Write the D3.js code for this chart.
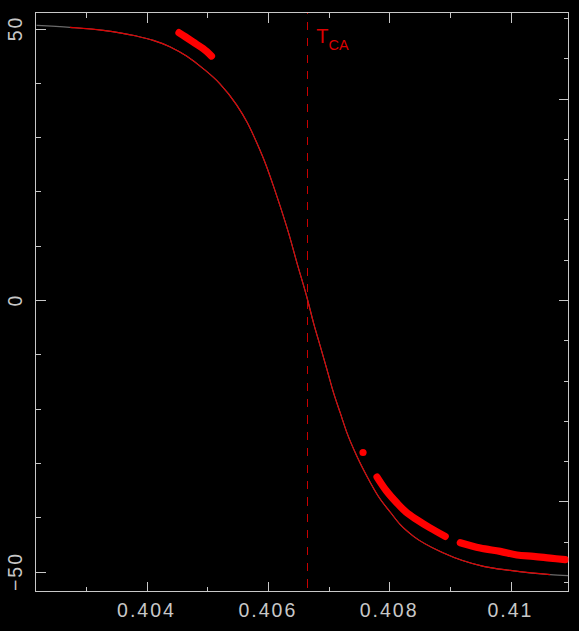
<!DOCTYPE html>
<html><head><meta charset="utf-8">
<script src="https://cdn.jsdelivr.net/npm/d3@7"></script>
<style>
html,body{margin:0;padding:0;background:#000;}
svg{display:block;}
text{font-family:"Liberation Sans",Arial,sans-serif;}
</style></head>
<body>
<script>
// ---- data ----
const xDomain = [0.40217, 0.410956];
const yDomain = [-53.68, 52.95];
const xMajorTicks = [0.404, 0.406, 0.408, 0.41];
const xTickLabels = ["0.404", "0.406", "0.408", "0.41"];
const xMinorTicks = [0.403, 0.405, 0.407, 0.409];
const yMajorTicks = [-50, 0, 50];
const yTickLabels = ["\u221250", "0", "50"];
const yMinorTicks = [-40, -30, -20, -10, 10, 20, 30, 40];
const rightScaleFactor = 0.7416;
const rightMajorTicks = [-50, 0, 50];
const rightMinorTicks = [-70, -60, -40, -30, -20, -10, 10, 20, 30, 40, 60, 70];
const tca = 0.406651;
const tcaLabel = "T", tcaSub = "CA";

// model curve
const curveX = [0.402188,0.402737,0.403287,0.403835,0.40411,0.404384,0.404659,0.404934,0.405207,0.405482,0.405658,0.405823,0.40596,0.406097,0.406207,0.406344,0.406482,0.406647,0.406755,0.406866,0.406976,0.407085,0.407195,0.407306,0.40747,0.407635,0.407826,0.408019,0.408183,0.408402,0.408896,0.409555,0.409995,0.410654,0.41095];
const curveY = [50.58,50.21,49.66,48.61,47.82,46.66,44.93,42.62,39.86,35.99,32.74,28.82,25.14,20.84,17.16,12.27,6.75,0.37,-4.29,-8.59,-12.87,-17.16,-20.84,-24.52,-28.82,-32.5,-36.23,-39.08,-41.38,-43.53,-46.59,-49.05,-49.79,-50.58,-50.76];
const curveRedRange = [0.4026, 0.41074];

// measured points (three dense runs + one isolated point)
const run1X = [0.404535,0.404642,0.404769,0.404934,0.405071];
const run1Y = [49.24,48.46,47.51,46.29,44.93];
const run2X = [0.4078,0.407953,0.408129,0.408282,0.408458,0.408677,0.408924];
const run2Y = [-32.61,-35.13,-37.39,-39.08,-40.46,-41.99,-43.53];
const run3X = [0.409172,0.409501,0.40983,0.410105,0.410379,0.410654,0.410901];
const run3Y = [-44.69,-45.67,-46.29,-46.96,-47.21,-47.54,-47.82];
const singleX = [0.407569];
const singleY = [-28.08];

// ---- chart ----
const W = 579, H = 631;
const L = 35.5, R = 568.5, T = 12.5, B = 591.5;
const svg = d3.select("body").append("svg").attr("width", W).attr("height", H)
  .style("background", "#000");
svg.append("rect").attr("width", W).attr("height", H).attr("fill", "#000");

const x = d3.scaleLinear().domain(xDomain).range([L, R]);
const y = d3.scaleLinear().domain(yDomain).range([B, T]);
const yR = d3.scaleLinear().domain([yDomain[0] / rightScaleFactor, yDomain[1] / rightScaleFactor]).range([B, T]);

const frameColor = "#c8c8c8";
const gAx = svg.append("g");

function styleAxis(g) {
  g.select(".domain").remove();
  g.selectAll(".tick line").attr("stroke", frameColor).attr("stroke-width", 1).attr("shape-rendering", "crispEdges");
  g.selectAll(".tick text").remove();
}
gAx.append("g").attr("transform", `translate(0,${B})`)
  .call(d3.axisBottom(x).tickValues(xMajorTicks).tickSize(-10)).call(styleAxis);
gAx.append("g").attr("transform", `translate(0,${B})`)
  .call(d3.axisBottom(x).tickValues(xMinorTicks).tickSize(-5)).call(styleAxis);
gAx.append("g").attr("transform", `translate(0,${T})`)
  .call(d3.axisTop(x).tickValues(xMajorTicks).tickSize(-10)).call(styleAxis);
gAx.append("g").attr("transform", `translate(0,${T})`)
  .call(d3.axisTop(x).tickValues(xMinorTicks).tickSize(-5)).call(styleAxis);
gAx.append("g").attr("transform", `translate(${L},0)`)
  .call(d3.axisLeft(y).tickValues(yMajorTicks).tickSize(-10)).call(styleAxis);
gAx.append("g").attr("transform", `translate(${L},0)`)
  .call(d3.axisLeft(y).tickValues(yMinorTicks).tickSize(-5)).call(styleAxis);
gAx.append("g").attr("transform", `translate(${R},0)`)
  .call(d3.axisRight(yR).tickValues(rightMajorTicks).tickSize(-10)).call(styleAxis);
gAx.append("g").attr("transform", `translate(${R},0)`)
  .call(d3.axisRight(yR).tickValues(rightMinorTicks).tickSize(-5)).call(styleAxis);

// frame
svg.append("rect").attr("x", L).attr("y", T).attr("width", R - L).attr("height", B - T)
  .attr("fill", "none").attr("stroke", frameColor).attr("stroke-width", 1)
  .attr("shape-rendering", "crispEdges");

// tick labels
const labelFont = 19.5;
svg.append("g").selectAll("text").data(xMajorTicks).join("text")
  .attr("x", d => x(d)).attr("y", 617)
  .attr("text-anchor", "middle").attr("fill", "#c8c8c8")
  .attr("font-size", labelFont).attr("letter-spacing", "2px")
  .text((d, i) => xTickLabels[i]);
svg.append("g").selectAll("text").data(yMajorTicks).join("text")
  .attr("transform", d => `translate(22,${y(d)}) rotate(-90)`)
  .attr("text-anchor", "middle").attr("fill", "#c8c8c8")
  .attr("font-size", labelFont).attr("letter-spacing", "2px")
  .text((d, i) => yTickLabels[i]);

const plot = svg.append("g");
plot.append("clipPath").attr("id", "clip").append("rect")
  .attr("x", L).attr("y", T).attr("width", R - L).attr("height", B - T);
const pg = plot.append("g").attr("clip-path", "url(#clip)");

// TCA dashed line
pg.append("line").attr("x1", x(tca)).attr("x2", x(tca)).attr("y1", T).attr("y2", B)
  .attr("stroke", "#c80000").attr("stroke-width", 1)
  .attr("stroke-dasharray", "8.3,8.1").attr("stroke-dashoffset", 7.2)
  .attr("shape-rendering", "crispEdges");

// model curve
const curve = curveX.map((v, i) => [v, curveY[i]]);
const line = d3.line().x(d => x(d[0])).y(d => y(d[1])).curve(d3.curveMonotoneX);
pg.append("path").datum(curve).attr("d", line)
  .attr("fill", "none").attr("stroke", "#6a6a6a").attr("stroke-width", 1.1);
pg.append("path").datum(curve.filter(d => d[0] >= curveRedRange[0] && d[0] <= curveRedRange[1]))
  .attr("d", line).attr("fill", "none").attr("stroke", "#e00000").attr("stroke-width", 1.1);

// measured runs
const runLine = d3.line().x(d => x(d[0])).y(d => y(d[1])).curve(d3.curveCatmullRom);
[[run1X, run1Y], [run2X, run2Y], [run3X, run3Y]].forEach(([xs, ys]) => {
  const pts = xs.map((v, i) => [v, ys[i]]);
  pg.append("path").datum(pts).attr("d", runLine)
    .attr("fill", "none").attr("stroke", "#ff0000").attr("stroke-width", 7.2)
    .attr("stroke-linecap", "round").attr("stroke-linejoin", "round");
});
pg.selectAll("circle.single").data(singleX.map((v, i) => [v, singleY[i]])).join("circle")
  .attr("class", "single").attr("cx", d => x(d[0])).attr("cy", d => y(d[1])).attr("r", 3.6)
  .attr("fill", "#ff0000");

// TCA label
const tl = svg.append("text").attr("x", x(tca) + 9).attr("y", 43)
  .attr("fill", "#dd0000").attr("font-size", 20);
tl.append("tspan").text(tcaLabel);
tl.append("tspan").attr("font-size", 14.5).attr("dy", 7).text(tcaSub);
</script>
</body></html>
